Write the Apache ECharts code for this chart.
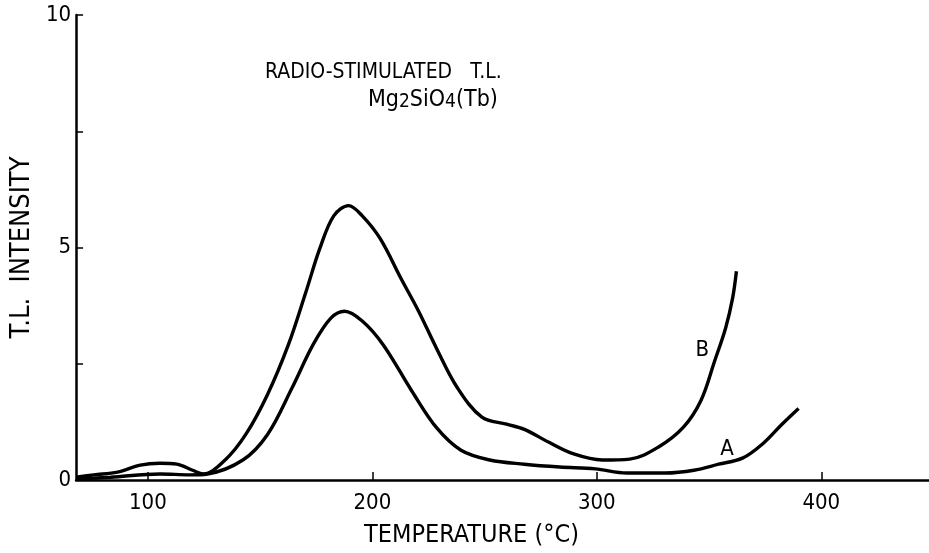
<!DOCTYPE html>
<html>
<head>
<meta charset="utf-8">
<title>Radio-stimulated T.L. of Mg2SiO4(Tb)</title>
<script src="https://cdn.jsdelivr.net/npm/echarts@6/dist/echarts.min.js"></script>
<style>
  html, body { margin: 0; padding: 0; background: #fff; }
  #chart { width: 929px; height: 553px; }
</style>
</head>
<body>
<div id="chart"></div>
<script>
// Glow curve B: temperature (°C) and T.L. intensity
const curveB_T = [68, 75.9, 86.5, 96.6, 105.4, 112.9, 119.9, 124.7, 134.4, 143.6, 153.3, 162.6, 170.5, 176.6, 182.8, 189.4, 195.5, 203.5, 212.7, 220.6, 228.5, 237.8, 248.8, 259.8, 267.7, 278.7, 289.7, 302.4, 314.7, 327.5, 338.5, 346.4, 352.5, 357.4, 360.5, 362.2];
const curveB_I = [0.06, 0.11, 0.17, 0.32, 0.36, 0.34, 0.21, 0.13, 0.43, 0.98, 1.84, 2.91, 4.06, 4.98, 5.68, 5.90, 5.68, 5.19, 4.34, 3.63, 2.84, 1.99, 1.35, 1.20, 1.09, 0.81, 0.56, 0.43, 0.45, 0.71, 1.13, 1.71, 2.56, 3.27, 3.91, 4.49];

// Glow curve A
const curveA_T = [68, 83.4, 105.4, 118.6, 126.5, 142.3, 153.3, 164.3, 173.6, 181.5, 187.6, 195.5, 204.8, 217.5, 228.5, 239.5, 252.3, 267.7, 283.5, 299.3, 313.4, 330.6, 343.3, 354.3, 364.9, 373.7, 382.5, 389.9];
const curveA_I = [0.02, 0.06, 0.13, 0.11, 0.13, 0.43, 0.98, 1.99, 2.91, 3.48, 3.63, 3.42, 2.91, 1.92, 1.13, 0.64, 0.43, 0.34, 0.28, 0.24, 0.15, 0.15, 0.21, 0.34, 0.47, 0.77, 1.20, 1.54];

// Axis ticks and labels
const tempTicks = [100, 200, 300, 400];
const intensityLabels = [0, 5, 10];

// Curve name labels: [temperature, intensity]
const labelB = [347, 2.8];
const labelA = [358, 0.66];

const FONT = '"DejaVu Sans Condensed", "Liberation Sans Narrow", "Liberation Sans", sans-serif';
const INK = '#000';

const zip = (xs, ys) => xs.map((x, i) => [x, ys[i]]);

const chart = echarts.init(document.getElementById('chart'), null, { renderer: 'canvas' });

function nameMark(coord, text) {
  return {
    symbol: 'circle',
    symbolSize: 0,
    silent: true,
    label: {
      show: true,
      position: 'inside',
      color: INK,
      fontFamily: FONT,
      fontSize: 22,
      formatter: text
    },
    data: [{ coord: coord }]
  };
}

chart.setOption({
  backgroundColor: '#fff',
  animation: false,
  grid: { left: 66, right: 0, top: 15, bottom: 70, containLabel: false },
  xAxis: {
    type: 'value',
    min: 68,
    max: 448,
    name: 'TEMPERATURE (°C)',
    nameLocation: 'middle',
    nameGap: 43,
    nameTextStyle: { color: INK, fontFamily: FONT, fontSize: 25, padding: [0, 62, 0, 0] },
    axisLine: { show: true, lineStyle: { color: INK, width: 2.5 } },
    axisTick: { show: true, inside: true, length: 8, lineStyle: { color: INK, width: 1.5 }, customValues: tempTicks },
    axisLabel: { color: INK, fontFamily: FONT, fontSize: 22, margin: 12, customValues: tempTicks },
    splitLine: { show: false }
  },
  yAxis: {
    type: 'value',
    min: 0,
    max: 10,
    interval: 2.5,
    name: 'T.L.  INTENSITY',
    nameLocation: 'middle',
    nameGap: 33,
    nameTextStyle: { color: INK, fontFamily: FONT, fontSize: 27 },
    axisLine: { show: true, lineStyle: { color: INK, width: 2.5 } },
    axisTick: { show: true, inside: true, length: 7, lineStyle: { color: INK, width: 1.5 } },
    axisLabel: {
      color: INK, fontFamily: FONT, fontSize: 22, margin: 5,
      formatter: v => (intensityLabels.includes(v) ? String(v) : '')
    },
    splitLine: { show: false }
  },
  graphic: [
    {
      type: 'text',
      left: 265,
      top: 62,
      style: { text: 'RADIO-STIMULATED   T.L.', fill: INK, font: '21px ' + FONT }
    },
    {
      type: 'text',
      left: 368,
      top: 89,
      style: {
        text: '{n|Mg}{s|2}{n|SiO}{s|4}{n|(Tb)}',
        fill: INK,
        rich: {
          n: { fontFamily: FONT, fontSize: 23, fill: INK, verticalAlign: 'bottom' },
          s: { fontFamily: FONT, fontSize: 19, fill: INK, padding: [8, 0, 0, 0], verticalAlign: 'bottom' }
        }
      }
    }
  ],
  series: [
    {
      name: 'B',
      type: 'line',
      data: zip(curveB_T, curveB_I),
      smooth: 0.35,
      showSymbol: false,
      lineStyle: { color: INK, width: 3.4 },
      markPoint: nameMark(labelB, 'B')
    },
    {
      name: 'A',
      type: 'line',
      data: zip(curveA_T, curveA_I),
      smooth: 0.35,
      showSymbol: false,
      lineStyle: { color: INK, width: 3.4 },
      markPoint: nameMark(labelA, 'A')
    }
  ]
});
</script>
</body>
</html>
